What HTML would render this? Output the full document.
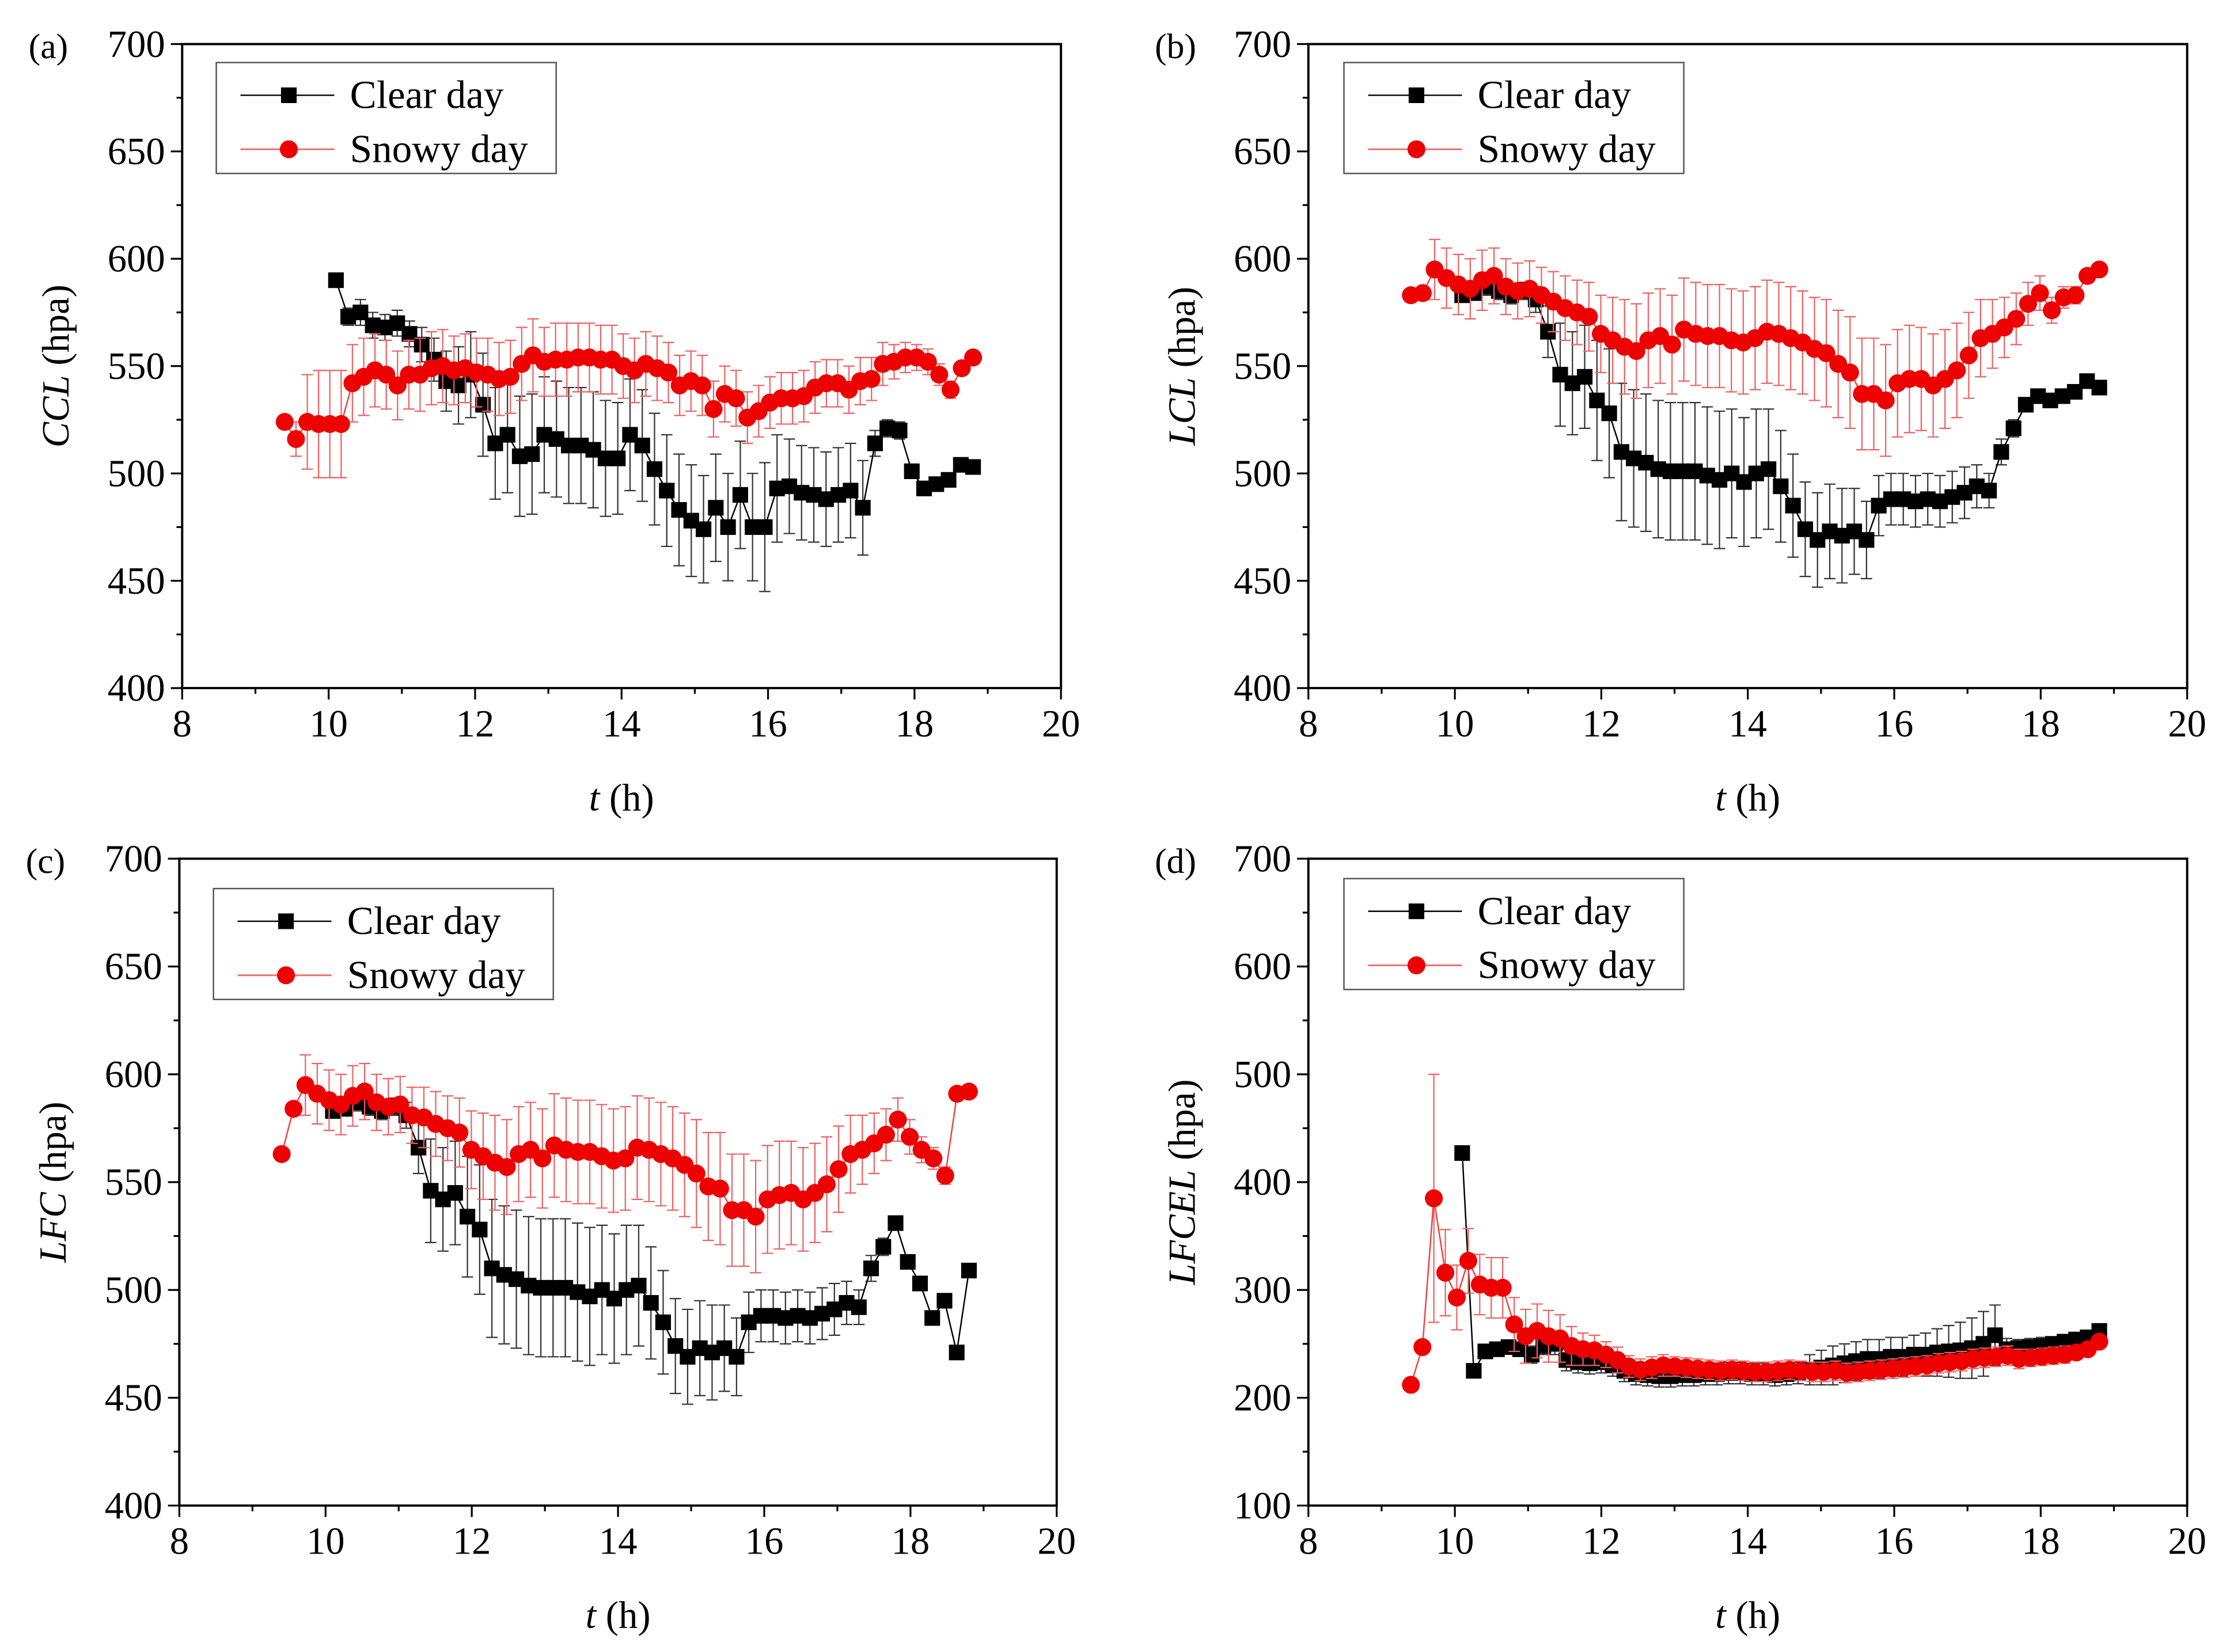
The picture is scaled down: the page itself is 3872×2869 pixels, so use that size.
<!DOCTYPE html>
<html><head><meta charset="utf-8"><style>
html,body{margin:0;padding:0;background:#fff;}
svg{display:block;}
text{font-family:"Liberation Serif",serif;fill:#000;}
</style></head><body>
<svg id="chart" width="3872" height="2869" viewBox="0 0 1568 1162" xmlns="http://www.w3.org/2000/svg"></svg>
<script>
// ---- data (hpa values, times in hours) ----
const snowStart = 9.4, snowEnd = 18.8, clearStart = 10.1, clearEnd = 18.8;
const ccl_snow = [524,516,524,523,523,523,542,545,548,546,541,546,546,549,550,548,549,547,546,544,545,551,555,552,553,553,554,554,553,553,550,548,551,549,547,541,543,541,530,537,535,526,529,533,535,535,536,540,542,542,539,543,544,551,552,554,554,552,546,539,549,554];
const ccl_snow_err = [3,8,22,25,25,25,18,18,17,16,16,16,17,17,17,16,16,16,17,17,17,17,17,16,17,17,16,16,16,16,15,15,15,15,14,14,14,14,13,13,13,12,12,12,12,12,12,12,11,11,11,11,10,10,8,7,6,6,5,4,3,3];
const ccl_clear = [590,573,575,569,568,570,565,560,553,543,541,546,532,514,518,508,509,518,516,513,513,511,507,507,518,513,502,492,483,478,474,484,475,490,475,475,493,494,491,490,488,490,492,484,514,521,520,501,493,495,497,504,503];
const ccl_clear_err = [0,4,6,6,6,6,6,8,10,14,18,20,24,26,27,28,28,27,27,27,27,27,27,26,26,26,26,26,26,26,25,25,25,25,25,30,25,22,22,22,22,22,22,22,6,4,4,2,2,2,2,2,2];

const lcl_snow = [583,584,595,591,588,586,590,592,587,585,586,583,580,577,575,573,565,562,559,557,562,564,560,567,565,564,564,562,561,563,566,565,563,561,558,556,551,547,537,537,534,542,544,544,541,544,548,555,563,565,568,572,579,584,576,582,583,592,595];
const lcl_snow_err = [2,2,14,14,14,14,14,13,13,13,13,13,14,15,15,16,18,20,22,22,22,22,23,24,24,24,24,24,24,24,24,24,24,24,24,25,25,26,26,26,26,25,25,24,24,23,22,20,18,16,14,12,10,8,6,5,4,3,2];
const lcl_clear = [583,584,587,585,583,585,581,566,546,542,545,534,528,510,507,505,502,501,501,501,499,497,500,496,500,502,494,485,474,469,473,471,473,469,485,488,488,487,488,487,489,491,494,492,510,521,532,536,534,536,538,543,540];
const lcl_clear_err = [2,2,4,4,4,4,6,12,24,24,24,28,30,32,32,32,32,32,32,32,32,32,30,30,30,28,26,24,22,22,22,22,20,18,14,12,12,12,12,12,12,12,10,8,6,4,3,2,2,2,2,2,2];

const lfc_snow = [563,584,595,591,588,586,590,592,587,585,586,581,580,577,575,573,565,562,559,557,563,565,561,567,565,564,564,562,560,561,566,565,563,561,558,554,548,547,537,537,534,542,544,545,542,545,549,556,563,565,568,572,579,571,565,561,553,591,592];
const lfc_snow_err = lcl_snow_err;
const lfc_clear = [583,584,587,585,583,585,581,566,546,542,545,534,528,510,507,505,502,501,501,501,499,497,500,496,500,502,494,485,474,469,473,471,473,469,485,488,488,487,488,487,489,491,494,492,510,520,531,513,503,487,495,471,509];
const lfc_clear_err = lcl_clear_err;

const lfcel_snow = [212,247,385,316,293,327,305,302,302,268,257,262,257,255,248,245,244,240,235,229,226,228,230,229,228,227,226,225,226,225,224,224,225,226,225,224,224,225,223,224,225,226,227,228,229,230,232,233,234,236,237,238,239,236,237,238,239,240,242,245,252];
const lfcel_snow_err = [0,0,115,40,30,30,28,28,28,25,25,25,24,22,18,15,14,12,12,10,10,10,10,9,9,9,9,9,9,9,9,9,9,9,9,9,9,9,9,9,9,9,9,9,9,9,9,9,9,9,9,9,9,9,8,8,8,8,6,5,4];
const lfcel_clear = [427,225,243,245,247,245,240,248,250,235,233,232,233,230,225,222,221,220,220,221,221,222,222,223,223,222,222,221,222,223,226,228,230,232,234,236,236,238,238,240,240,242,243,244,246,250,258,245,246,247,248,250,252,254,256,262];
const lfcel_clear_err = [0,0,4,5,6,6,8,8,10,10,10,10,10,10,10,10,10,10,10,10,10,10,10,10,10,10,10,10,10,10,14,16,18,18,18,18,18,18,18,18,20,22,24,26,28,30,28,10,8,8,8,6,6,6,4,4];

const xTicks = [8,10,12,14,16,18,20];
const yTicksA = [400,450,500,550,600,650,700];
const yTicksD = [100,200,300,400,500,600,700];

const panels = [
 {id:'a', L:128, T:31, R:746, B:484, ymin:400, ymax:700, yt:yTicksA, ym:25, lab:'CCL', snow:ccl_snow, se:ccl_snow_err, clear:ccl_clear, ce:ccl_clear_err, leg:[152,44]},
 {id:'b', L:920, T:31, R:1538, B:484, ymin:400, ymax:700, yt:yTicksA, ym:25, lab:'LCL', snow:lcl_snow, se:lcl_snow_err, clear:lcl_clear, ce:lcl_clear_err, leg:[945,44]},
 {id:'c', L:126, T:604, R:743, B:1059, ymin:400, ymax:700, yt:yTicksA, ym:25, lab:'LFC', snow:lfc_snow, se:lfc_snow_err, clear:lfc_clear, ce:lfc_clear_err, leg:[150,625]},
 {id:'d', L:920, T:604, R:1538, B:1059, ymin:100, ymax:700, yt:yTicksD, ym:50, lab:'LFCEL', snow:lfcel_snow, se:lfcel_snow_err, clear:lfcel_clear, ce:lfcel_clear_err, leg:[945,618]}
];

const NS='http://www.w3.org/2000/svg';
const svg=document.getElementById('chart');
function mk(tag,attrs,parent){const e=document.createElementNS(NS,tag);for(const k in attrs)e.setAttribute(k,attrs[k]);(parent||svg).appendChild(e);return e;}

panels.forEach(p=>{
  const g=mk('g',{});
  
  
  const sx=v=>p.L+(v-8)/12*(p.R-p.L);
  const sy=v=>p.B-(v-p.ymin)/(p.ymax-p.ymin)*(p.B-p.T);
  const frame=mk('rect',{x:p.L,y:p.T,width:p.R-p.L,height:p.B-p.T,fill:'none',stroke:'#000','stroke-width':1.6},g);
  
  
  for(let v=8;v<=20;v+=1){
    const major=xTicks.includes(v);
    mk('line',{x1:sx(v),x2:sx(v),y1:p.B,y2:p.B+(major?8:4),stroke:'#000','stroke-width':1.3},g);
  }
  xTicks.forEach(v=>{
    const t=mk('text',{x:sx(v),y:p.B+34,'font-size':27,'text-anchor':'middle'},g);
    t.textContent=v;
    
    
  });
  for(let v=p.ymin;v<=p.ymax;v+=p.ym){
    const major=p.yt.includes(v);
    mk('line',{x1:p.L,x2:p.L-(major?8:4),y1:sy(v),y2:sy(v),stroke:'#000','stroke-width':1.3},g);
  }
  p.yt.forEach(v=>{
    const t=mk('text',{x:p.L-12,y:sy(v)+9,'font-size':27,'text-anchor':'end'},g);
    t.textContent=v;
    
    
  });
  const pl=mk('text',{x:p.L-108,y:p.T+10,'font-size':25},g);
  pl.textContent='('+p.id+')';
  
  
  const xt=mk('text',{x:(p.L+p.R)/2,y:p.B+86,'font-size':27,'text-anchor':'middle'},g);
  xt.innerHTML='<tspan font-style="italic">t</tspan> (h)';
  
  
  const cy=(p.T+p.B)/2, cx=p.L-80;
  const yt=mk('text',{x:cx,y:cy,'font-size':27,'text-anchor':'middle',transform:`rotate(-90 ${cx} ${cy})`},g);
  yt.innerHTML='<tspan font-style="italic">'+p.lab+'</tspan> (hpa)';
  
  
  const series=[
    {vals:p.clear,err:p.ce,start:clearStart,end:clearEnd,name:'clear'},
    {vals:p.snow,err:p.se,start:snowStart,end:snowEnd,name:'snowy'}
  ];
  series.forEach(s=>{
    const n=s.vals.length, step=(s.end-s.start)/(n-1);
    const sg=mk('g',{},g);
    
    
    const ec=s.name==='snowy'?'#f06060':'#333';
    s.vals.forEach((v,i)=>{
      const e=s.err[i]||0; if(!e) return;
      const x=sx(s.start+i*step);
      mk('line',{x1:x,x2:x,y1:sy(v-e),y2:sy(v+e),stroke:ec,'stroke-width':0.9},sg);
      mk('line',{x1:x-4,x2:x+4,y1:sy(v-e),y2:sy(v-e),stroke:ec,'stroke-width':0.9},sg);
      mk('line',{x1:x-4,x2:x+4,y1:sy(v+e),y2:sy(v+e),stroke:ec,'stroke-width':0.9},sg);
    });
    const pts=s.vals.map((v,i)=>sx(s.start+i*step).toFixed(1)+','+sy(v).toFixed(1)).join(' ');
    mk('polyline',{points:pts,fill:'none',stroke:s.name==='snowy'?'#f04040':'#000','stroke-width':1},sg);
    s.vals.forEach((v,i)=>{
      const x=sx(s.start+i*step), y=sy(v);
      let m;
      if(s.name==='clear') m=mk('rect',{x:x-5.5,y:y-5.5,width:11,height:11,fill:'#000'},sg);
      else m=mk('circle',{cx:x,cy:y,r:6.3,fill:'#ee0000'},sg);
      
      
    });
  });
  const [lx,ly]=p.leg;
  const lg=mk('g',{},g);
  
  
  mk('rect',{x:lx,y:ly,width:239,height:78,fill:'#fff',stroke:'#555','stroke-width':1},lg);
  mk('line',{x1:lx+17,x2:lx+83,y1:ly+23,y2:ly+23,stroke:'#000','stroke-width':1},lg);
  mk('rect',{x:lx+45.5,y:ly+17.5,width:11,height:11,fill:'#000'},lg);
  const t1=mk('text',{x:lx+94,y:ly+32,'font-size':28},lg);
  t1.textContent='Clear day';
  
  
  mk('line',{x1:lx+17,x2:lx+83,y1:ly+61,y2:ly+61,stroke:'#f07070','stroke-width':1.2},lg);
  mk('circle',{cx:lx+51,cy:ly+61,r:6.3,fill:'#ee0000'},lg);
  const t2=mk('text',{x:lx+94,y:ly+70,'font-size':28},lg);
  t2.textContent='Snowy day';
  
  
});
</script>
</body></html>
